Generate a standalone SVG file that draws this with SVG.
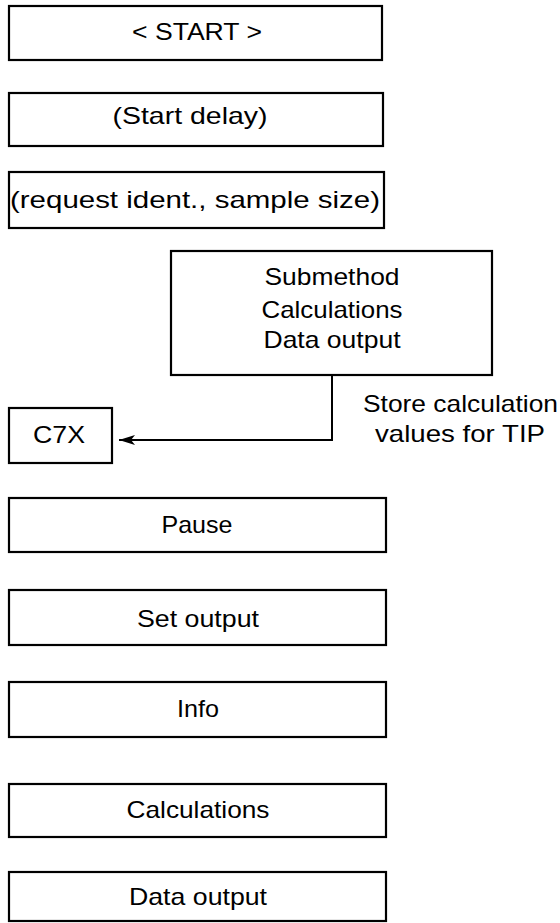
<svg xmlns="http://www.w3.org/2000/svg" width="560" height="923" viewBox="0 0 560 923">
<style>
.box{fill:#fff;stroke:#000;stroke-width:2.2}
.t{font-family:"Liberation Sans",Arial,Helvetica,sans-serif;font-size:24px;fill:#000;text-anchor:middle}
.tl{font-family:"Liberation Sans",Arial,Helvetica,sans-serif;font-size:24px;fill:#000;text-anchor:start}
.line{fill:none;stroke:#000;stroke-width:2}
</style>
<defs>
<marker id="arr" markerWidth="18" markerHeight="12" refX="17" refY="6" orient="auto" markerUnits="userSpaceOnUse">
<path d="M17,6 L1,1 L5,6 L1,11 Z" fill="#000"/>
</marker>
</defs>
<rect width="560" height="923" fill="#fff"/>
<g id="start"><rect class="box" x="9" y="6" width="373" height="54"/><text class="t" x="197" y="40" textLength="130" lengthAdjust="spacingAndGlyphs">&lt; START &gt;</text></g>
<g id="startdelay"><rect class="box" x="9" y="93" width="374" height="53"/><text class="t" x="190" y="124" textLength="155" lengthAdjust="spacingAndGlyphs">(Start delay)</text></g>
<g id="request"><rect class="box" x="9" y="172" width="375" height="56"/><text class="t" x="195" y="208" textLength="370" lengthAdjust="spacingAndGlyphs">(request ident., sample size)</text></g>
<g id="submethod"><rect class="box" x="171" y="251" width="321" height="124"/>
<text class="t" x="332" y="285" textLength="135" lengthAdjust="spacingAndGlyphs">Submethod</text>
<text class="t" x="332" y="318" textLength="141" lengthAdjust="spacingAndGlyphs">Calculations</text>
<text class="t" x="332" y="348" textLength="137" lengthAdjust="spacingAndGlyphs">Data output</text></g>
<g id="c7x"><rect class="box" x="9" y="408" width="103" height="55"/><text class="t" x="59" y="443" textLength="52" lengthAdjust="spacingAndGlyphs">C7X</text></g>
<g id="connectors">
<path class="line" d="M332,375 V440 H119" marker-end="url(#arr)"/>
</g>
<g id="label"><text class="tl" x="363" y="412" textLength="195" lengthAdjust="spacingAndGlyphs">Store calculation</text>
<text class="tl" x="375" y="442" textLength="170" lengthAdjust="spacingAndGlyphs">values for TIP</text></g>
<g id="pause"><rect class="box" x="9" y="498" width="377" height="54"/><text class="t" x="197" y="533" textLength="71" lengthAdjust="spacingAndGlyphs">Pause</text></g>
<g id="setoutput"><rect class="box" x="9" y="590" width="377" height="55"/><text class="t" x="198" y="627" textLength="122" lengthAdjust="spacingAndGlyphs">Set output</text></g>
<g id="info"><rect class="box" x="9" y="682" width="377" height="55"/><text class="t" x="198" y="717" textLength="42" lengthAdjust="spacingAndGlyphs">Info</text></g>
<g id="calculations"><rect class="box" x="9" y="784" width="377" height="53"/><text class="t" x="198" y="818" textLength="143" lengthAdjust="spacingAndGlyphs">Calculations</text></g>
<g id="dataoutput"><rect class="box" x="9" y="872" width="377" height="49"/><text class="t" x="198" y="905" textLength="138" lengthAdjust="spacingAndGlyphs">Data output</text></g>
</svg>
